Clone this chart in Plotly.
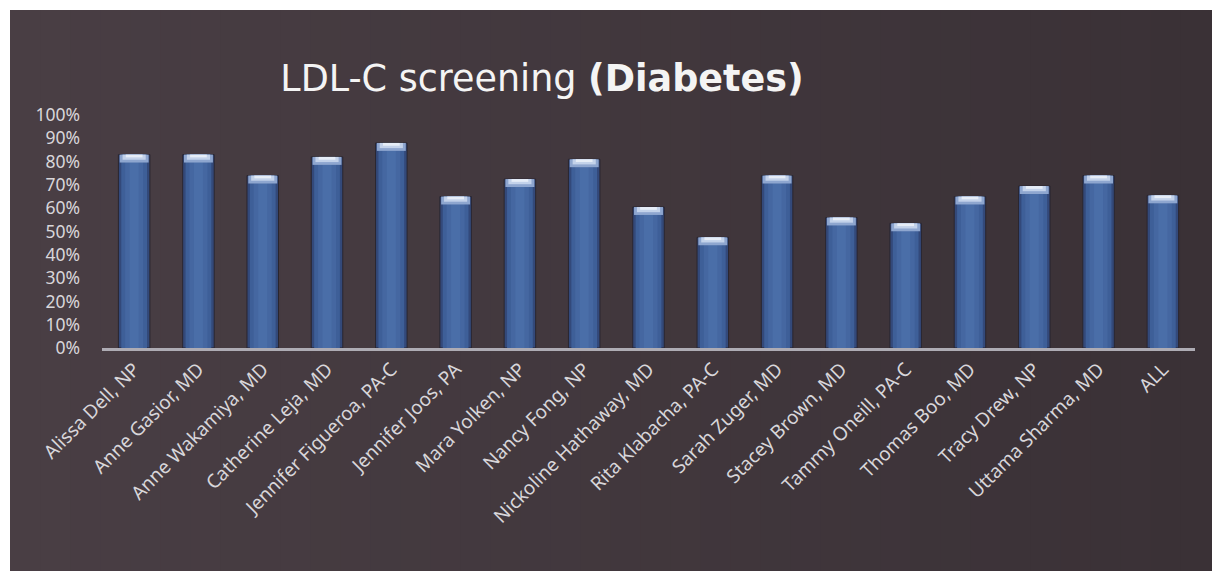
import plotly.graph_objects as go

# Providers and LDL-C screening rates for patients with diabetes (%)
providers = [
    "Alissa Dell, NP", "Anne Gasior, MD", "Anne Wakamiya, MD", "Catherine Leja, MD",
    "Jennifer Figueroa, PA-C", "Jennifer Joos, PA", "Mara Yolken, NP", "Nancy Fong, NP",
    "Nickoline Hathaway, MD", "Rita Klabacha, PA-C", "Sarah Zuger, MD", "Stacey Brown, MD",
    "Tammy Oneill, PA-C", "Thomas Boo, MD", "Tracy Drew, NP", "Uttama Sharma, MD", "ALL",
]
screening_pct = [83, 83, 74, 82, 88, 65, 72.5, 81, 60.5, 47.5, 74, 56, 53.5, 65, 69.5, 74, 65.5]

y_ticks = list(range(0, 101, 10))
y_tick_labels = [f"{t}%" for t in y_ticks]

W, H = 1218, 571
ML, MR, MT, MB = 102, 23, 115, 223
PW, PH = W - ML - MR, H - MT - MB

fig = go.Figure()

# cylinder-like shading: dark body, lighter core, bright bevel on top
fig.add_trace(go.Bar(x=providers, y=screening_pct, width=0.49,
                     marker=dict(color="#33497a", line=dict(color="#2a2630", width=1))))
fig.add_trace(go.Bar(x=providers, y=screening_pct, width=0.40,
                     marker=dict(color="#3e5f98", line=dict(width=0))))
fig.add_trace(go.Bar(x=providers, y=screening_pct, width=0.28,
                     marker=dict(color="#4567a1", line=dict(width=0))))
fig.add_trace(go.Bar(x=providers, y=screening_pct, width=0.14,
                     marker=dict(color="#4a6ea8", line=dict(width=0))))
bevel = 3.4
fig.add_trace(go.Bar(x=providers, y=[bevel] * len(screening_pct),
                     base=[v - bevel for v in screening_pct], width=0.45,
                     marker=dict(color="#8ea6cf", line=dict(width=0))))
fig.add_trace(go.Bar(x=providers, y=[bevel * 0.65] * len(screening_pct),
                     base=[v - bevel * 0.65 for v in screening_pct], width=0.36,
                     marker=dict(color="#c3d2ea", line=dict(width=0))))
fig.add_trace(go.Bar(x=providers, y=[bevel * 0.35] * len(screening_pct),
                     base=[v - bevel * 0.35 for v in screening_pct], width=0.26,
                     marker=dict(color="#e6edf7", line=dict(width=0))))


def px_to_paper_x(px):
    return (px - ML) / PW


def px_to_paper_y(py):
    return (H - MB - py) / PH


# dark background panel with a soft left-to-right gradient
shapes = []
x_start, x_end, y_top, y_bot = 10, 1211, 10, 571
steps = 40
c0 = (0x49, 0x3e, 0x44)
c1 = (0x3a, 0x31, 0x36)
for i in range(steps):
    f = i / (steps - 1)
    col = tuple(round(a + (b - a) * f) for a, b in zip(c0, c1))
    xa = x_start + (x_end - x_start) * i / steps
    xb = x_start + (x_end - x_start) * (i + 1) / steps + 1
    shapes.append(dict(type="rect", xref="paper", yref="paper", layer="below",
                       x0=px_to_paper_x(xa), x1=px_to_paper_x(xb),
                       y0=px_to_paper_y(y_bot), y1=px_to_paper_y(y_top),
                       fillcolor="rgb(%d,%d,%d)" % col, line=dict(width=0)))

fig.update_layout(
    width=W, height=H,
    margin=dict(l=ML, r=MR, t=MT, b=MB, pad=0),
    paper_bgcolor="white",
    plot_bgcolor="rgba(0,0,0,0)",
    barmode="overlay",
    showlegend=False,
    shapes=shapes,
    title=dict(text="LDL-C screening <b>(Diabetes)</b>",
               x=px_to_paper_x(542), xref="paper", xanchor="center",
               y=1 - 78 / H, yref="container", yanchor="middle",
               font=dict(family="DejaVu Sans", size=36.5, color="#f4f4f4")),
    xaxis=dict(showline=True, linecolor="#aeacb4", linewidth=2.5, ticks="",
               tickangle=-45, tickfont=dict(family="Noto Sans", size=19, color="#d8d6da"),
               showgrid=False, zeroline=False),
    yaxis=dict(range=[0, 100], tickvals=y_ticks, ticktext=y_tick_labels,
               tickfont=dict(family="Noto Sans", size=17.5, color="#d8d6da"),
               showgrid=False, zeroline=False, showline=False, ticks="",
               ticklabelstandoff=21),
)

fig.write_html("out.html")
